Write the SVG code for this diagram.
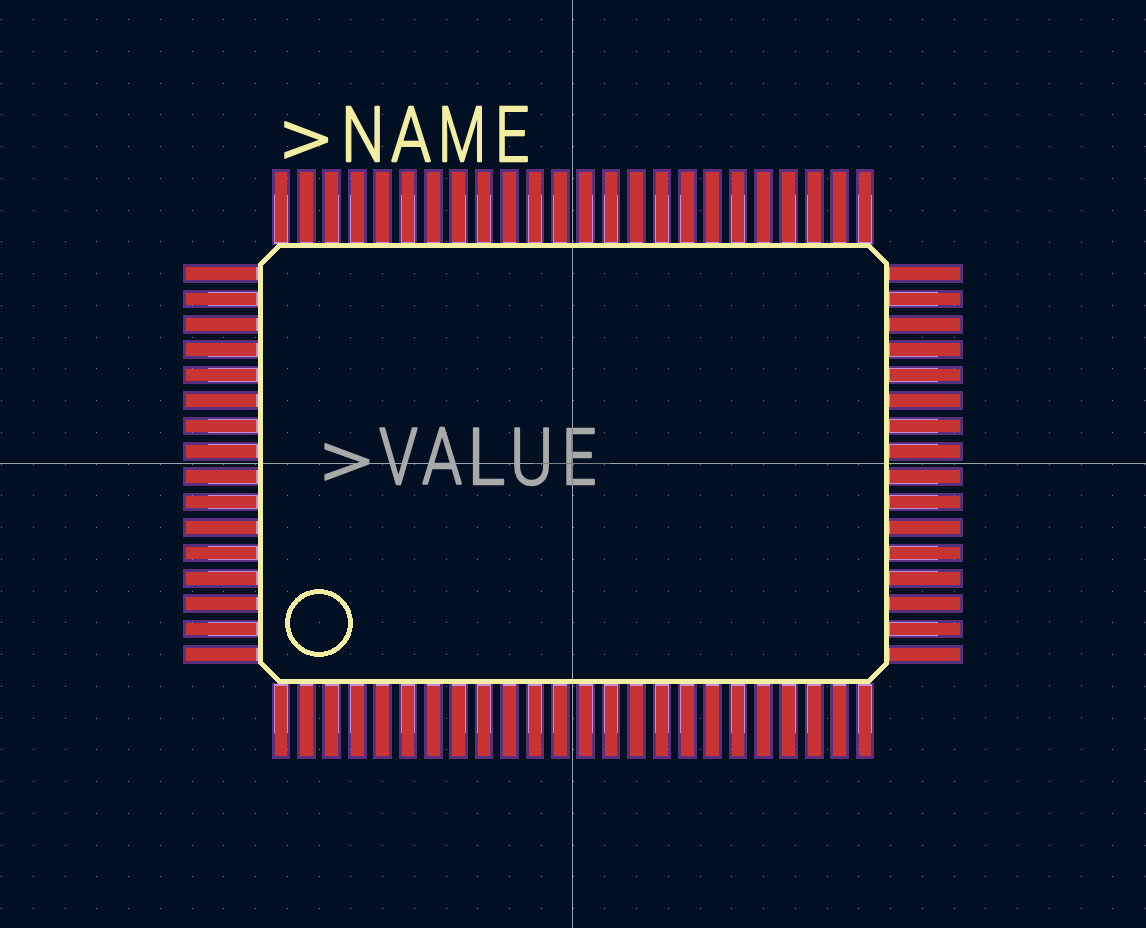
<svg xmlns="http://www.w3.org/2000/svg" xmlns:xlink="http://www.w3.org/1999/xlink" width="1146" height="928" viewBox="0 0 1146 928">
<style>
rect,path{shape-rendering:crispEdges}
.o{fill:#5a2f7e}
.r{fill:#c83434}
.l{fill:#c48ed6}
.cv rect{height:76px}
.rv rect{height:70px}
.lv rect{height:49px}
.ch rect{width:76px}
.rh rect{width:70px}
.lh rect{width:50px}
.o rect{rx:1.5px}
.silk{fill:#f2eda1;fill-rule:evenodd}
.lbl{font-family:Roboto,"Liberation Sans",Arial,sans-serif;font-weight:300;stroke-linejoin:round;stroke-width:2.3}
.gt{font-size:88px;stroke-width:1.3px}
</style>
<defs>
<g id="col-o" class="o cv"><rect x="272" width="18"/><rect x="297" width="19"/><rect x="322" width="19"/><rect x="348" width="19"/><rect x="373" width="19"/><rect x="399" width="18"/><rect x="424" width="19"/><rect x="449" width="19"/><rect x="475" width="18"/><rect x="500" width="19"/><rect x="526" width="18"/><rect x="551" width="19"/><rect x="576" width="19"/><rect x="602" width="18"/><rect x="627" width="19"/><rect x="653" width="18"/><rect x="678" width="19"/><rect x="703" width="19"/><rect x="729" width="18"/><rect x="754" width="19"/><rect x="779" width="19"/><rect x="805" width="19"/><rect x="830" width="19"/><rect x="856" width="18"/></g>
<g id="col-l" class="l lv"><rect x="274" width="14"/><rect x="300" width="13"/><rect x="325" width="14"/><rect x="350" width="14"/><rect x="376" width="13"/><rect x="401" width="14"/><rect x="427" width="13"/><rect x="452" width="14"/><rect x="477" width="14"/><rect x="503" width="13"/><rect x="528" width="14"/><rect x="553" width="14"/><rect x="579" width="14"/><rect x="604" width="14"/><rect x="630" width="13"/><rect x="655" width="14"/><rect x="680" width="14"/><rect x="706" width="13"/><rect x="731" width="14"/><rect x="757" width="13"/><rect x="782" width="14"/><rect x="807" width="14"/><rect x="833" width="13"/><rect x="858" width="14"/></g>
<g id="col-r" class="r rv"><rect x="275" width="12"/><rect x="300" width="13"/><rect x="325" width="13"/><rect x="351" width="13"/><rect x="376" width="13"/><rect x="402" width="12"/><rect x="427" width="13"/><rect x="452" width="13"/><rect x="478" width="12"/><rect x="503" width="13"/><rect x="529" width="12"/><rect x="554" width="13"/><rect x="579" width="13"/><rect x="605" width="12"/><rect x="630" width="13"/><rect x="656" width="12"/><rect x="681" width="13"/><rect x="706" width="13"/><rect x="732" width="12"/><rect x="757" width="13"/><rect x="782" width="13"/><rect x="808" width="13"/><rect x="833" width="13"/><rect x="859" width="12"/></g>
<g id="row-o" class="o ch"><rect y="264" height="19"/><rect y="290" height="18"/><rect y="315" height="19"/><rect y="340" height="19"/><rect y="366" height="18"/><rect y="391" height="19"/><rect y="417" height="18"/><rect y="442" height="19"/><rect y="467" height="19"/><rect y="493" height="18"/><rect y="518" height="19"/><rect y="544" height="18"/><rect y="569" height="19"/><rect y="594" height="19"/><rect y="620" height="18"/><rect y="645" height="19"/></g>
<g id="row-l" class="l lh"><rect y="267" height="13"/><rect y="292" height="14"/><rect y="318" height="13"/><rect y="343" height="14"/><rect y="368" height="14"/><rect y="394" height="13"/><rect y="419" height="14"/><rect y="444" height="14"/><rect y="470" height="14"/><rect y="495" height="14"/><rect y="521" height="13"/><rect y="546" height="14"/><rect y="571" height="14"/><rect y="597" height="13"/><rect y="622" height="14"/><rect y="648" height="13"/></g>
<g id="row-r" class="r rh"><rect y="267" height="13"/><rect y="293" height="12"/><rect y="318" height="13"/><rect y="343" height="13"/><rect y="369" height="12"/><rect y="394" height="13"/><rect y="420" height="12"/><rect y="445" height="13"/><rect y="470" height="13"/><rect y="496" height="12"/><rect y="521" height="13"/><rect y="547" height="12"/><rect y="572" height="13"/><rect y="597" height="13"/><rect y="623" height="12"/><rect y="648" height="13"/></g>
</defs>
<rect id="background" width="1146" height="928" fill="#001023"/>
<g id="crosshair">
<rect x="572" y="0" width="1" height="928" fill="#9ea4a9"/>
<rect x="0" y="463" width="1146" height="1" fill="#9ea4a9"/>
</g>
<g id="pad-outlines">
<use xlink:href="#col-o" href="#col-o" y="169"/>
<use xlink:href="#col-o" href="#col-o" y="683"/>
<use xlink:href="#row-o" href="#row-o" x="183"/>
<use xlink:href="#row-o" href="#row-o" x="887"/>
</g>
<path id="grid" fill="none" stroke="#6f8090" stroke-width="1" stroke-dasharray="1 30.75" d="M1 19.5H1146M1 51.25H1146M1 83H1146M1 114.75H1146M1 146.5H1146M1 178.25H1146M1 210H1146M1 241.75H1146M1 273.5H1146M1 305.25H1146M1 337H1146M1 368.75H1146M1 400.5H1146M1 432.25H1146M1 464H1146M1 495.75H1146M1 527.5H1146M1 559.25H1146M1 591H1146M1 622.75H1146M1 654.5H1146M1 686.25H1146M1 718H1146M1 749.75H1146M1 781.5H1146M1 813.25H1146M1 845H1146M1 876.75H1146M1 908.5H1146"/>
<g id="pads-top"><use xlink:href="#col-l" href="#col-l" y="195"/><use xlink:href="#col-r" href="#col-r" y="172"/></g>
<g id="pads-bottom"><use xlink:href="#col-l" href="#col-l" y="684"/><use xlink:href="#col-r" href="#col-r" y="686"/></g>
<g id="pads-left"><use xlink:href="#row-l" href="#row-l" x="208"/><use xlink:href="#row-r" href="#row-r" x="186"/></g>
<g id="pads-right"><use xlink:href="#row-l" href="#row-l" x="888"/><use xlink:href="#row-r" href="#row-r" x="890"/></g>
<g id="silkscreen">
<path class="silk" d="M278 243H869L889 263V664L869 684H278L258 664V263ZM280 248L263 265V662L280 679H867L884 662V265L867 248Z"/>
<path class="silk" d="M285 623A34 34 0 1 1 353 623A34 34 0 1 1 285 623ZM290 623A29 29 0 1 0 348 623A29 29 0 1 0 290 623Z"/>
</g>
<text id="name-label" class="lbl" transform="scale(.8 1)" font-size="76" fill="#f2eda1" stroke="#f2eda1"><tspan class="gt" x="348.6" y="167.7" textLength="66.5" lengthAdjust="spacingAndGlyphs">&gt;</tspan><tspan x="426.6" y="161" textLength="54.1" lengthAdjust="spacingAndGlyphs">N</tspan><tspan x="489" y="161" textLength="49.5" lengthAdjust="spacingAndGlyphs">A</tspan><tspan x="547.4" y="161" textLength="60.25" lengthAdjust="spacingAndGlyphs">M</tspan><tspan x="618.6" y="161" textLength="43.1" lengthAdjust="spacingAndGlyphs">E</tspan></text>
<text id="value-label" class="lbl" transform="scale(.8 1)" font-size="78" fill="#a9a9a9" stroke="#a9a9a9"><tspan class="gt" x="398.4" y="490.5" textLength="68.25" lengthAdjust="spacingAndGlyphs">&gt;</tspan><tspan x="474" y="484" textLength="48" lengthAdjust="spacingAndGlyphs">V</tspan><tspan x="527.75" y="484" textLength="49.5" lengthAdjust="spacingAndGlyphs">A</tspan><tspan x="584.5" y="484" textLength="46.9" lengthAdjust="spacingAndGlyphs">L</tspan><tspan x="637.4" y="484" textLength="53.9" lengthAdjust="spacingAndGlyphs">U</tspan><tspan x="702.25" y="484" textLength="43.1" lengthAdjust="spacingAndGlyphs">E</tspan></text>
<g id="crosshair-over-text">
<rect x="533" y="463" width="77" height="1" fill="#808080"/>
<rect x="572" y="428" width="1" height="57" fill="#808080"/>
</g>
</svg>
